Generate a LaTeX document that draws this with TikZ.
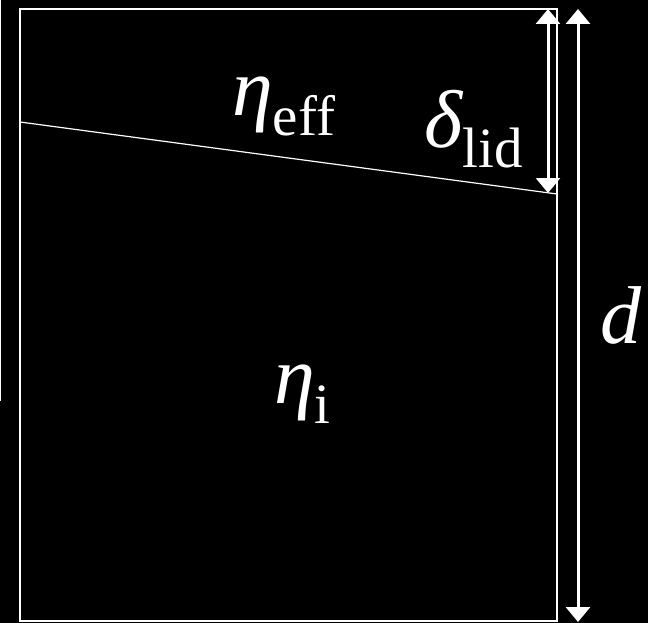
\documentclass[tikz,border=0pt]{standalone}
\usepackage{fontspec}
\setmainfont{Liberation Serif}
\usepackage{tikz}
\usetikzlibrary{positioning,arrows.meta}

\tikzset{
  lbl/.style={text=white, inner sep=0pt, anchor=base west, font=\fontsize{82}{90}\selectfont},
  dimarrow/.style={white, line width=3pt, {Triangle[width=24pt,length=15pt]}-{Triangle[width=24pt,length=15pt]}}
}
\newcommand{\sub}[1]{\raisebox{-20pt}{\fontsize{57}{60}\selectfont #1}}

\begin{document}
\begin{tikzpicture}[x=1pt,y=-1pt]
\fill[black] (0,0) rectangle (648,623);
\useasboundingbox (0,0) rectangle (648,623);
\coordinate (tl) at (20,9);
\coordinate (br) at (557,621);
\coordinate (sl) at (20,122);
\coordinate (sr) at (557,194);
\coordinate (lidtop) at (548,9);
\coordinate (lidbot) at (548,193);
\coordinate (dtop) at (578,9);
\coordinate (dbot) at (578,622);
\draw[white, line width=2pt] (0,0) -- (0,401);
\draw[white, line width=2.2pt] (tl) rectangle (br);
\draw[white, line width=1.2pt] (sl) -- (sr);
\draw[dimarrow] (lidtop) -- (lidbot);
\draw[dimarrow] (dtop) -- (dbot);
\node[lbl] (etaeff) at (232,116) {\itshape η\upshape\sub{eff}};
\node[lbl] (deltalid) at (424,148) {\itshape δ\upshape\sub{lid}};
\node[lbl] (etai) at (274,403) {\itshape η\upshape\sub{i}};
\node[lbl] (dlbl) at (600,343) {\itshape d};
\end{tikzpicture}
\end{document}
